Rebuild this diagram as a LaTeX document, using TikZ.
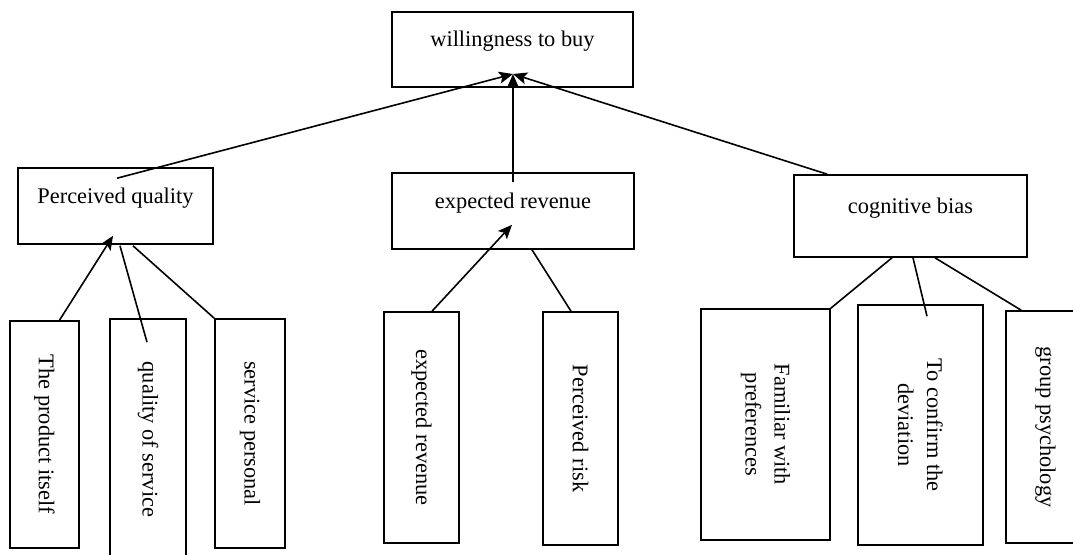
\documentclass[tikz,border=0pt]{standalone}
\usepackage{fontspec}
\setmainfont{Liberation Serif}
\usetikzlibrary{arrows.meta, calc}

\begin{document}
\begin{tikzpicture}[x=0.5pt, y=-0.5pt, line width=0.8pt,
    font=\fontsize{11.2}{14.5}\selectfont,
    factor/.style={draw, rectangle, text height=8pt, text depth=11pt},
    item/.style={draw, rectangle, rotate=-90, align=center},
    arr/.style={-{Stealth[length=7pt, width=6pt, inset=1.5pt]}}]
\useasboundingbox (0,0) rectangle (1073,554);
% Define the goal
\node[factor, minimum width=120.5pt, minimum height=37.5pt] (buy) at (512.5,49.5) {willingness to buy};
% Define the three factors
\node[factor, minimum width=97.5pt, minimum height=38pt] (pq) at (115.5,206) {Perceived quality};
\node[factor, minimum width=121pt, minimum height=38pt] (er) at (513,211) {expected revenue};
\node[factor, minimum width=116.5pt, minimum height=41pt] (cb) at (910.5,216) {cognitive bias};
% Define the items below the factors
\foreach \name/\x/\y/\w/\h/\txt in {prod/44.5/434.5/34.5/113.5/The product itself,
    qos/148/439.5/38/120.5/quality of service,
    serv/250/433.5/35/114.5/service personal,
    erl/421.5/427.5/37.5/115.5/expected revenue,
    risk/580.5/428.5/37.5/116.5/Perceived risk,
    fam/765.5/424.5/64.5/115.5/Familiar with\\preferences,
    conf/920.5/425/62.5/120/To confirm the\\deviation,
    grp/1045.5/427/39.5/116/group psychology}
    \node[item, minimum width=\h pt, minimum height=\w pt] (\name) at (\x,\y) {\txt};
% Connect the factors to the goal
\coordinate (tip) at (513,74);
\draw[arr] ($(pq.north)+(1.5,11)$) -- (tip);
\draw[arr] ($(er.north)+(0,10)$) -- (tip);
\draw[arr] ($(cb.north west)+(34,0)$) -- (tip);
% Connect the items to the factors
\draw[arr] ($(prod.west)+(15,0)$) -- ($(pq.south)+(-2.5,-9)$);
\draw ($(pq.south)+(4.5,1)$) -- ($(qos.west)+(-1,24)$);
\draw ($(pq.south)+(17.5,1)$) -- (serv.south west);
\draw[arr] ($(erl.west)+(10.5,0)$) -- ($(er.south)+(-1,-25)$);
\draw ($(er.south)+(19,0)$) -- ($(risk.west)+(-9.5,0)$);
\draw ($(cb.south)+(-18.5,0)$) -- (fam.north west);
\draw ($(cb.south)+(2.5,0)$) -- ($(conf.west)+(6.5,12)$);
\draw ($(cb.south)+(24.5,0)$) -- ($(grp.south west)+(16,0)$);
\end{tikzpicture}
\end{document}
